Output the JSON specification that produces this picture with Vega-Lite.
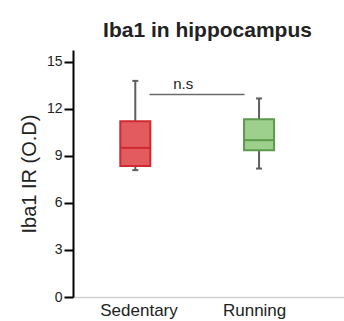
{
  "$schema": "https://vega.github.io/schema/vega-lite/v6.json",
  "width": 271,
  "height": 247,
  "autosize": {"type": "none"},
  "padding": {"left": 73, "top": 50, "right": 0, "bottom": 24},
  "background": "white",
  "config": {
    "font": "Liberation Sans",
    "view": {"stroke": null},
    "axis": {"grid": false}
  },
  "title": {
    "text": "Iba1 in hippocampus",
    "fontSize": 21,
    "fontWeight": "bold",
    "color": "#222222",
    "anchor": "middle",
    "offset": 9,
    "dx": -1
  },
  "datasets": {
    "boxes": [
      {"group": "Sedentary", "pos": 1, "min": 8.09, "q1": 8.36, "median": 9.51, "q3": 11.21, "max": 13.78},
      {"group": "Running", "pos": 2, "min": 8.19, "q1": 9.36, "median": 10.0, "q3": 11.34, "max": 12.66}
    ],
    "annot": [
      {"x1": 1.115, "x2": 1.883, "y": 12.92, "tx": 1.387, "ty": 13.24, "label": "n.s"}
    ]
  },
  "encoding": {
    "x": {
      "type": "quantitative",
      "scale": {"domain": [0.537, 2.646], "nice": false, "zero": false},
      "axis": {
        "title": null,
        "values": [1.026, 1.96],
        "labelExpr": "datum.value < 1.5 ? 'Sedentary' : 'Running'",
        "ticks": false,
        "domainColor": "#cfcfcf",
        "domainWidth": 1.5,
        "labelFontSize": 17,
        "labelColor": "#222222",
        "labelPadding": 5,
        "labelFlush": false
      }
    },
    "y": {
      "type": "quantitative",
      "scale": {"domain": [0, 15.75], "nice": false},
      "axis": {
        "title": "Iba1 IR (O.D)",
        "titleFontSize": 20,
        "titleFontWeight": "normal",
        "titleColor": "#222222",
        "titlePadding": 7,
        "values": [0, 3, 6, 9, 12, 15],
        "domainColor": "#000000",
        "domainWidth": 2,
        "tickColor": "#000000",
        "tickWidth": 2,
        "tickSize": 9,
        "labelFontSize": 14,
        "labelColor": "#222222",
        "labelPadding": 2
      }
    }
  },
  "layer": [
    {
      "data": {"name": "boxes"},
      "mark": {"type": "rule", "color": "#5e5e5e", "strokeWidth": 2},
      "encoding": {
        "x": {"field": "pos"},
        "y": {"field": "min"},
        "y2": {"field": "max"}
      }
    },
    {
      "data": {"name": "boxes"},
      "mark": {"type": "tick", "orient": "horizontal", "color": "#5e5e5e", "size": 6, "thickness": 2, "opacity": 1},
      "encoding": {
        "x": {"field": "pos"},
        "y": {"field": "min"}
      }
    },
    {
      "data": {"name": "boxes"},
      "mark": {"type": "tick", "orient": "horizontal", "color": "#5e5e5e", "size": 6, "thickness": 2, "opacity": 1},
      "encoding": {
        "x": {"field": "pos"},
        "y": {"field": "max"}
      }
    },
    {
      "data": {"name": "boxes"},
      "mark": {"type": "bar", "width": 30, "strokeWidth": 2, "opacity": 1},
      "encoding": {
        "x": {"field": "pos"},
        "y": {"field": "q1"},
        "y2": {"field": "q3"},
        "fill": {
          "field": "group",
          "type": "nominal",
          "scale": {"domain": ["Sedentary", "Running"], "range": ["#e35b5e", "#9dd08c"]},
          "legend": null
        },
        "stroke": {
          "field": "group",
          "type": "nominal",
          "scale": {"domain": ["Sedentary", "Running"], "range": ["#cf2a30", "#5b9a4c"]},
          "legend": null
        }
      }
    },
    {
      "data": {"name": "boxes"},
      "mark": {"type": "tick", "orient": "horizontal", "size": 30, "thickness": 2, "opacity": 1},
      "encoding": {
        "x": {"field": "pos"},
        "y": {"field": "median"},
        "color": {
          "field": "group",
          "type": "nominal",
          "scale": {"domain": ["Sedentary", "Running"], "range": ["#cf2a30", "#5b9a4c"]},
          "legend": null
        }
      }
    },
    {
      "data": {"name": "annot"},
      "mark": {"type": "rule", "color": "#6b6b6b", "strokeWidth": 1.5},
      "encoding": {
        "x": {"field": "x1"},
        "x2": {"field": "x2"},
        "y": {"field": "y"}
      }
    },
    {
      "data": {"name": "annot"},
      "mark": {"type": "text", "fontSize": 15, "color": "#222222", "baseline": "alphabetic", "align": "center"},
      "encoding": {
        "x": {"field": "tx"},
        "y": {"field": "ty"},
        "text": {"field": "label"}
      }
    }
  ]
}
